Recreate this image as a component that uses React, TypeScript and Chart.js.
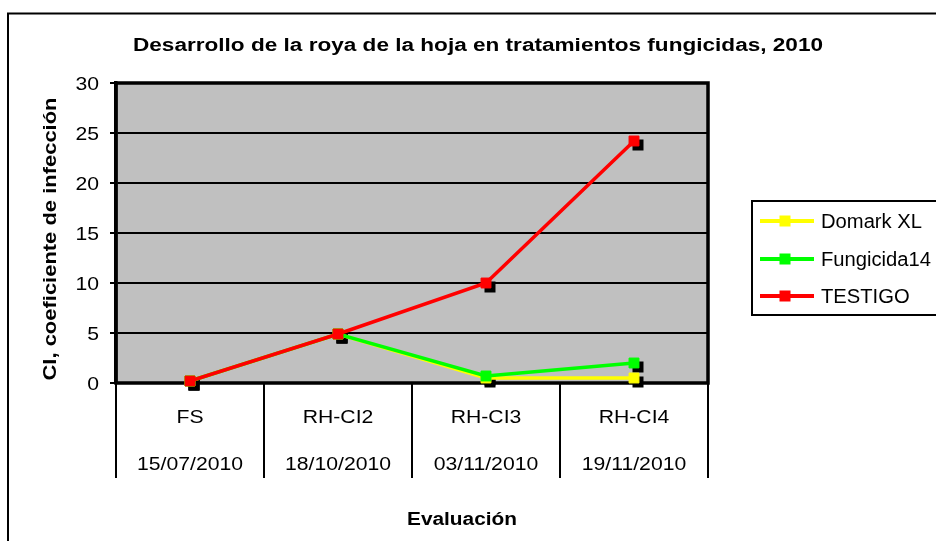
import React, { useEffect, useRef } from "react";
import { Chart, registerables } from "chart.js";

Chart.register(...registerables);

const categories = ["FS", "RH-CI2", "RH-CI3", "RH-CI4"];
const dates = ["15/07/2010", "18/10/2010", "03/11/2010", "19/11/2010"];
const domarkXL = [0.2, 4.9, 0.5, 0.5];
const fungicida14 = [0.2, 4.9, 0.7, 2.0];
const testigo = [0.2, 4.9, 10.0, 24.2];
const yTicks = [0, 5, 10, 15, 20, 25, 30];
const seriesNames = ["Domark XL", "Fungicida14", "TESTIGO"];
const seriesColors = ["#FFFF00", "#00FF00", "#FF0000"];
const seriesValues = [domarkXL, fungicida14, testigo];
const chartTitle = "Desarrollo de la roya de la hoja en tratamientos fungicidas, 2010";
const yTitle = "CI, coeficiente de infección";
const xTitle = "Evaluación";

const FONT = '"Liberation Sans", Arial, sans-serif';
const REG = `18px ${FONT}`;
const BOLD = `bold 18px ${FONT}`;
const LEG = `20px ${FONT}`;

function measure(ctx: CanvasRenderingContext2D, text: string, font: string) {
  ctx.save();
  ctx.font = font;
  const w = ctx.measureText(text).width;
  ctx.restore();
  return w;
}

function drawStretched(
  ctx: CanvasRenderingContext2D,
  text: string,
  x: number,
  y: number,
  font: string,
  sx: number,
  align: "left" | "center" | "right"
) {
  ctx.save();
  ctx.font = font;
  ctx.textBaseline = "alphabetic";
  ctx.textAlign = "left";
  const w = ctx.measureText(text).width * sx;
  let x0 = x;
  if (align === "center") x0 = x - w / 2;
  else if (align === "right") x0 = x - w;
  ctx.translate(x0, y);
  ctx.scale(sx, 1);
  ctx.fillStyle = "#000";
  ctx.fillText(text, 0, 0);
  ctx.restore();
}

const decor = {
  id: "decor",
  beforeDraw(chart: any) {
    const { ctx, chartArea: a } = chart;
    ctx.save();
    ctx.fillStyle = "#fff";
    ctx.fillRect(0, 0, chart.width, chart.height);
    ctx.strokeStyle = "#000";
    ctx.lineWidth = 2;
    ctx.strokeRect(8, 13.5, chart.width + 40, chart.height + 40);
    ctx.fillStyle = "#C0C0C0";
    ctx.fillRect(a.left, a.top, a.right - a.left, a.bottom - a.top);
    ctx.restore();
  },
  beforeDatasetsDraw(chart: any) {
    const { ctx, chartArea: a } = chart;
    ctx.save();
    ctx.strokeStyle = "#000";
    ctx.lineWidth = 3.5;
    ctx.strokeRect(a.left, a.top, a.right - a.left, a.bottom - a.top);
    ctx.fillStyle = "#000";
    chart.data.datasets.forEach((_ds: any, i: number) => {
      const meta = chart.getDatasetMeta(i);
      meta.data.forEach((p: any) => {
        ctx.fillRect(p.x - 5.5 + 4, p.y - 5.5 + 4, 11, 11);
      });
    });
    ctx.restore();
  },
  afterDraw(chart: any) {
    const { ctx, chartArea: a } = chart;
    const xs = chart.scales.x;
    const ys = chart.scales.y;
    ctx.save();

    // category separators below the plot
    const bounds: number[] = [a.left];
    for (let i = 0; i < categories.length - 1; i++) {
      bounds.push((xs.getPixelForValue(i) + xs.getPixelForValue(i + 1)) / 2);
    }
    bounds.push(a.right);
    ctx.strokeStyle = "#000";
    ctx.lineWidth = 2;
    bounds.forEach((bx) => {
      ctx.beginPath();
      ctx.moveTo(bx, a.bottom);
      ctx.lineTo(bx, 478);
      ctx.stroke();
    });

    // axis label texts
    const sxReg = 106 / measure(ctx, "15/07/2010", REG);
    categories.forEach((c, i) => {
      const cx = xs.getPixelForValue(i);
      drawStretched(ctx, c, cx, 423, REG, sxReg, "center");
      drawStretched(ctx, dates[i], cx, 470, REG, sxReg, "center");
    });
    yTicks.forEach((v) => {
      const py = ys.getPixelForValue(v);
      drawStretched(ctx, String(v), 99, py + 6.5, REG, sxReg, "right");
    });

    // titles
    const sxTitle = 690 / measure(ctx, chartTitle, BOLD);
    drawStretched(ctx, chartTitle, 478, 51, BOLD, sxTitle, "center");
    const sxX = 110 / measure(ctx, xTitle, BOLD);
    drawStretched(ctx, xTitle, 462, 525, BOLD, sxX, "center");
    const sxY = 283 / measure(ctx, yTitle, BOLD);
    ctx.save();
    ctx.translate(56, 239);
    ctx.rotate(-Math.PI / 2);
    drawStretched(ctx, yTitle, 0, 0, BOLD, sxY, "center");
    ctx.restore();

    // legend
    ctx.strokeStyle = "#000";
    ctx.lineWidth = 2;
    ctx.strokeRect(752, 201, 300, 114);
    const sxLeg = 101 / measure(ctx, "Domark XL", LEG);
    const rowsY = [221, 259, 296];
    seriesNames.forEach((n, i) => {
      const ly = rowsY[i];
      ctx.strokeStyle = seriesColors[i];
      ctx.lineWidth = 4;
      ctx.beginPath();
      ctx.moveTo(760, ly);
      ctx.lineTo(814, ly);
      ctx.stroke();
      ctx.fillStyle = seriesColors[i];
      ctx.fillRect(785 - 5.5, ly - 5.5, 11, 11);
      drawStretched(ctx, n, 821, ly + 7, LEG, sxLeg, "left");
    });
    ctx.restore();
  },
};

export default function App() {
  const ref = useRef<HTMLCanvasElement | null>(null);
  useEffect(() => {
    if (!ref.current) return;
    const chart = new Chart(ref.current, {
      type: "line",
      data: {
        labels: categories,
        datasets: seriesNames.map((n, i) => ({
          label: n,
          data: seriesValues[i],
          borderColor: seriesColors[i],
          backgroundColor: seriesColors[i],
          pointBackgroundColor: seriesColors[i],
          pointBorderColor: seriesColors[i],
          pointStyle: "rect",
          pointRadius: 7,
          pointBorderWidth: 1,
          borderWidth: 3.5,
          tension: 0,
          order: 3 - i,
          clip: false as any,
        })),
      },
      options: {
        responsive: false,
        animation: false,
        devicePixelRatio: 1,
        layout: { padding: { left: 116, right: 228, top: 83, bottom: 158 } },
        plugins: {
          legend: { display: false },
          title: { display: false },
          tooltip: { enabled: false },
        },
        scales: {
          x: { type: "category", offset: true, display: false },
          y: {
            type: "linear",
            min: 0,
            max: 30,
            ticks: { stepSize: 5, display: false },
            grid: {
              color: "#000",
              lineWidth: 2,
              tickLength: 6,
              tickWidth: 2,
              tickColor: "#000",
            },
            border: { display: true, color: "#000", width: 3.5 },
            afterFit: (s: any) => {
              s.width = 0;
            },
          },
        },
      } as any,
      plugins: [decor],
    });
    return () => chart.destroy();
  }, []);
  return (
    <div style={{ position: "fixed", left: 0, top: 0, width: 936, height: 541 }}>
      <canvas ref={ref} width={936} height={541} />
    </div>
  );
}
